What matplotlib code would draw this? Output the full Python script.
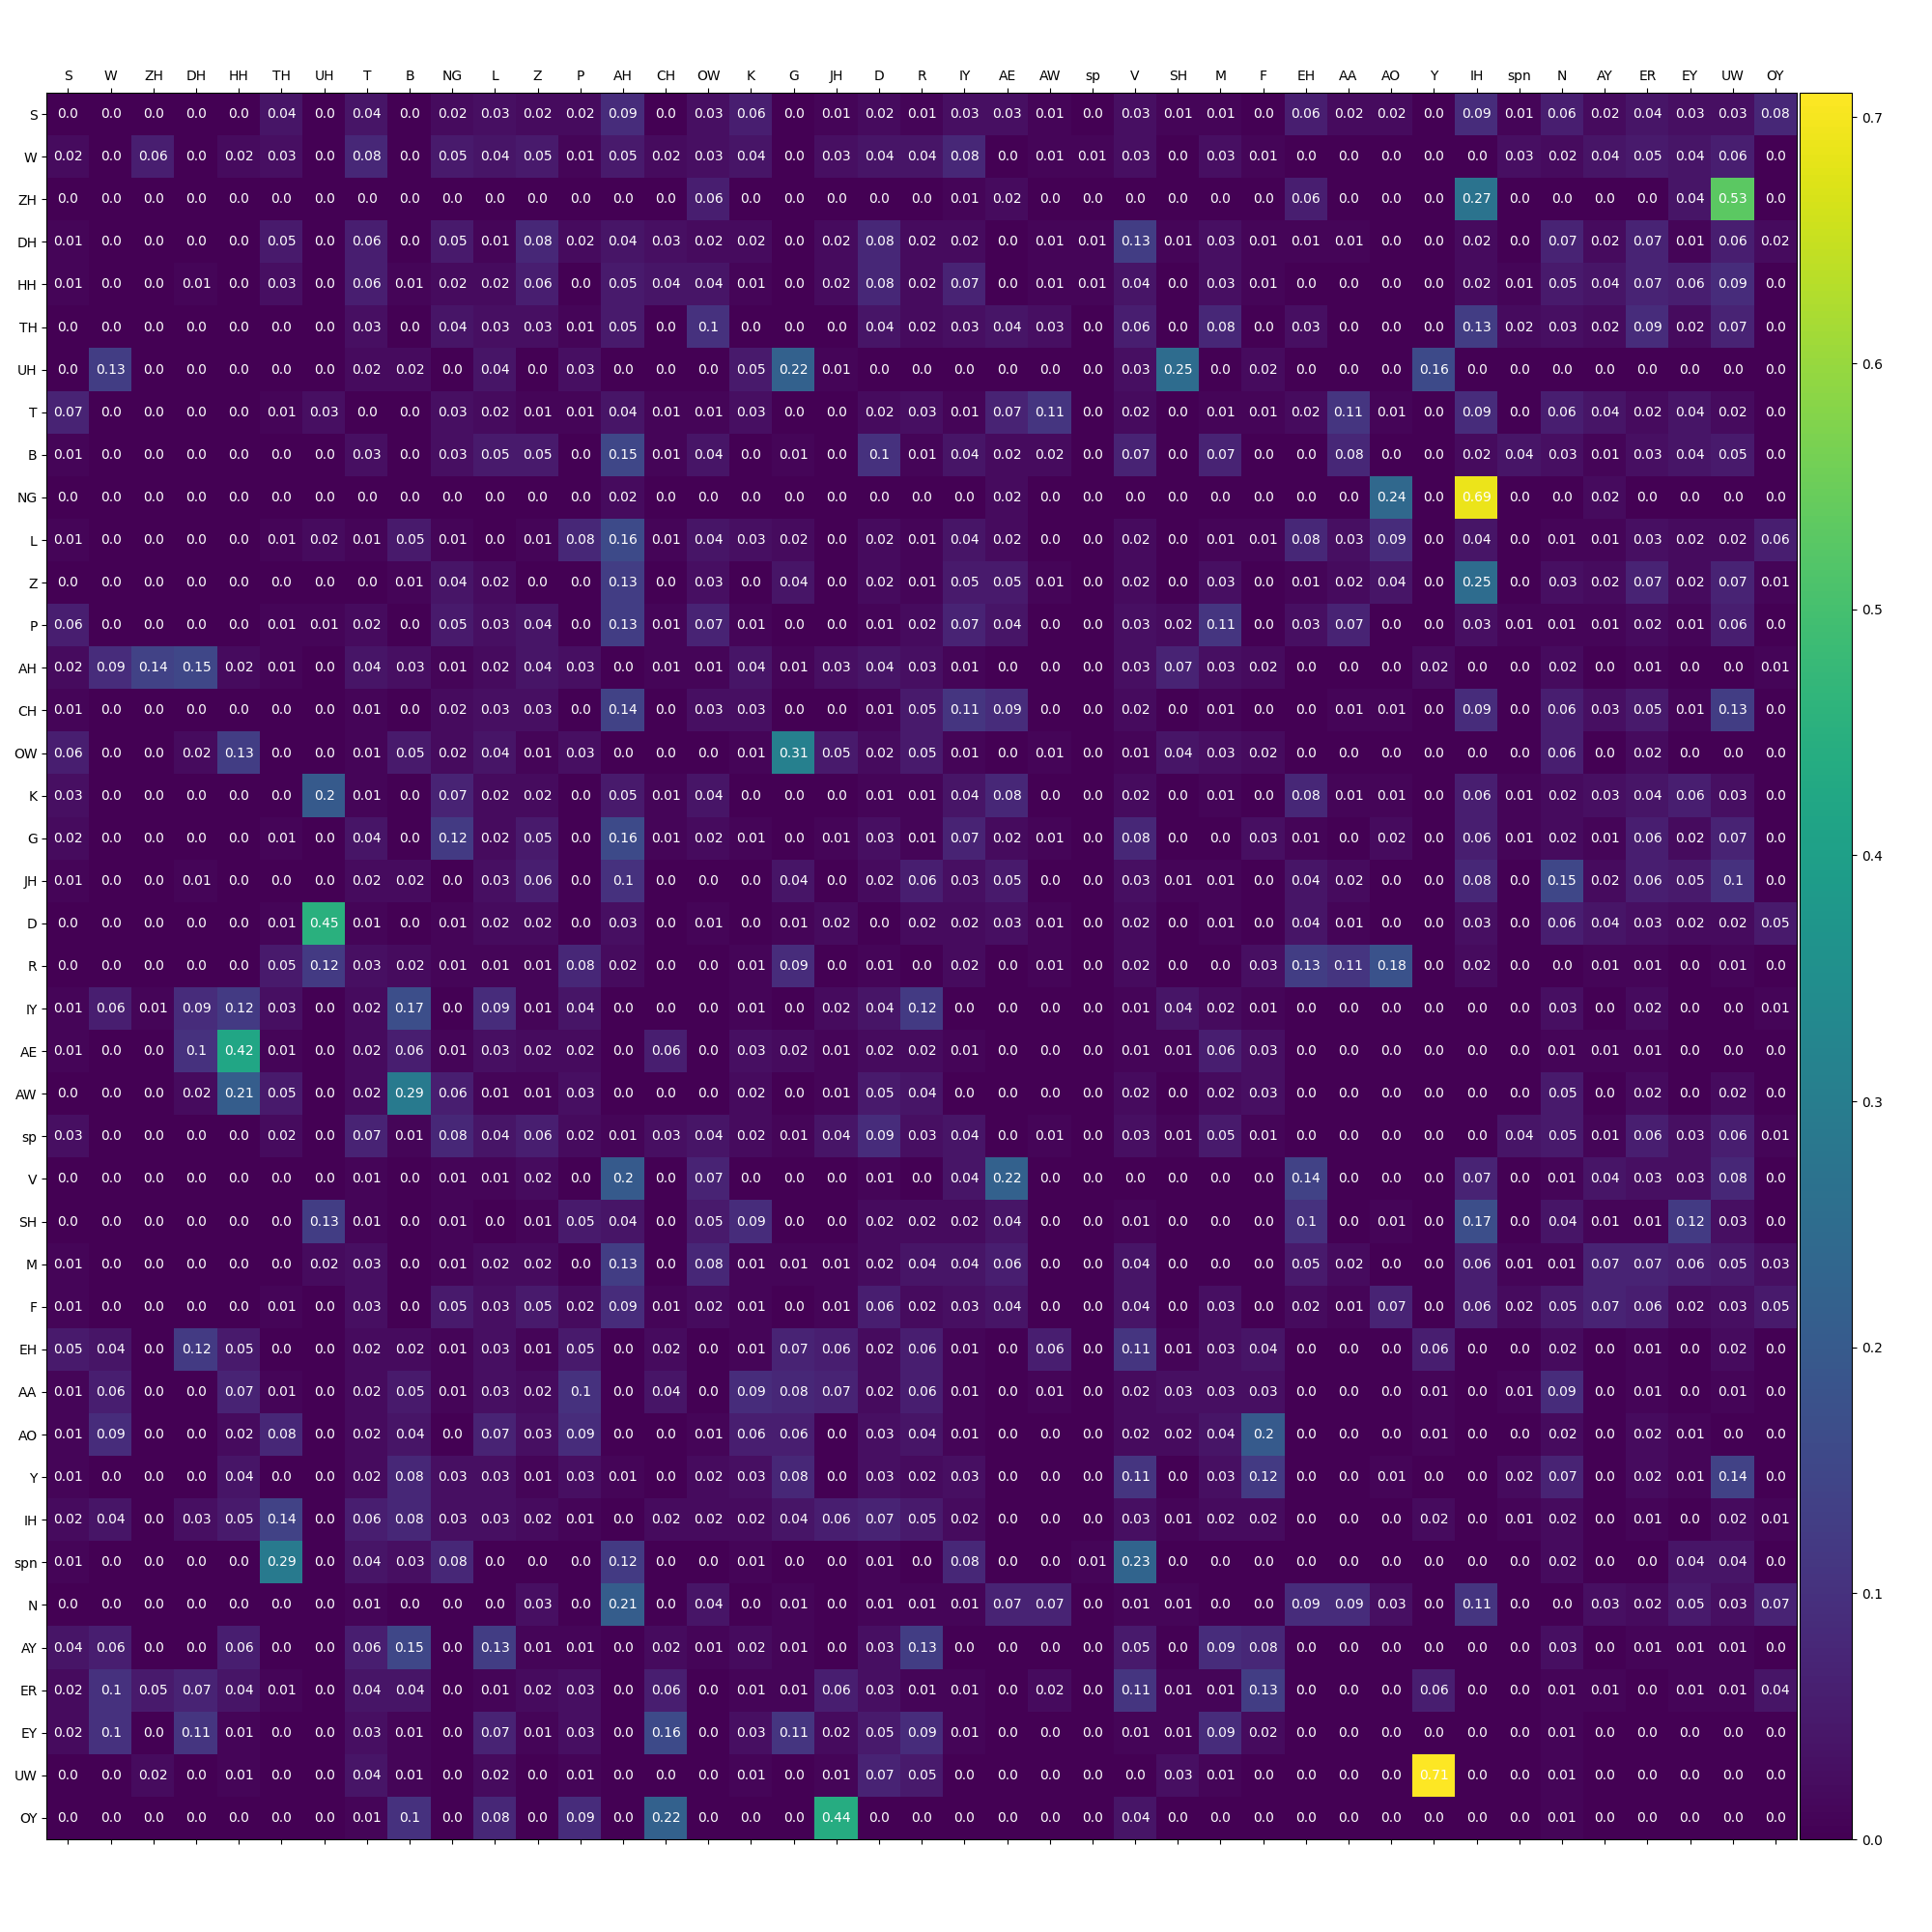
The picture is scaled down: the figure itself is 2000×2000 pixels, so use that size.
import matplotlib
matplotlib.use("Agg")
import matplotlib.pyplot as plt
import numpy as np

labels = ["S", "W", "ZH", "DH", "HH", "TH", "UH", "T", "B", "NG", "L", "Z", "P", "AH",
          "CH", "OW", "K", "G", "JH", "D", "R", "IY", "AE", "AW", "sp", "V", "SH",
          "M", "F", "EH", "AA", "AO", "Y", "IH", "spn", "N", "AY", "ER", "EY", "UW", "OY"]

row_S = [0.0, 0.0, 0.0, 0.0, 0.0, 0.04, 0.0, 0.04, 0.0, 0.02, 0.03, 0.02, 0.02, 0.09, 0.0, 0.03, 0.06, 0.0, 0.01, 0.02, 0.01, 0.03, 0.03, 0.01, 0.0, 0.03, 0.01, 0.01, 0.0, 0.06, 0.02, 0.02, 0.0, 0.09, 0.01, 0.06, 0.02, 0.04, 0.03, 0.03, 0.08]
row_W = [0.02, 0.0, 0.06, 0.0, 0.02, 0.03, 0.0, 0.08, 0.0, 0.05, 0.04, 0.05, 0.01, 0.05, 0.02, 0.03, 0.04, 0.0, 0.03, 0.04, 0.04, 0.08, 0.0, 0.01, 0.01, 0.03, 0.0, 0.03, 0.01, 0.0, 0.0, 0.0, 0.0, 0.0, 0.03, 0.02, 0.04, 0.05, 0.04, 0.06, 0.0]
row_ZH = [0.0, 0.0, 0.0, 0.0, 0.0, 0.0, 0.0, 0.0, 0.0, 0.0, 0.0, 0.0, 0.0, 0.0, 0.0, 0.06, 0.0, 0.0, 0.0, 0.0, 0.0, 0.01, 0.02, 0.0, 0.0, 0.0, 0.0, 0.0, 0.0, 0.06, 0.0, 0.0, 0.0, 0.27, 0.0, 0.0, 0.0, 0.0, 0.04, 0.53, 0.0]
row_DH = [0.01, 0.0, 0.0, 0.0, 0.0, 0.05, 0.0, 0.06, 0.0, 0.05, 0.01, 0.08, 0.02, 0.04, 0.03, 0.02, 0.02, 0.0, 0.02, 0.08, 0.02, 0.02, 0.0, 0.01, 0.01, 0.13, 0.01, 0.03, 0.01, 0.01, 0.01, 0.0, 0.0, 0.02, 0.0, 0.07, 0.02, 0.07, 0.01, 0.06, 0.02]
row_HH = [0.01, 0.0, 0.0, 0.01, 0.0, 0.03, 0.0, 0.06, 0.01, 0.02, 0.02, 0.06, 0.0, 0.05, 0.04, 0.04, 0.01, 0.0, 0.02, 0.08, 0.02, 0.07, 0.0, 0.01, 0.01, 0.04, 0.0, 0.03, 0.01, 0.0, 0.0, 0.0, 0.0, 0.02, 0.01, 0.05, 0.04, 0.07, 0.06, 0.09, 0.0]
row_TH = [0.0, 0.0, 0.0, 0.0, 0.0, 0.0, 0.0, 0.03, 0.0, 0.04, 0.03, 0.03, 0.01, 0.05, 0.0, 0.1, 0.0, 0.0, 0.0, 0.04, 0.02, 0.03, 0.04, 0.03, 0.0, 0.06, 0.0, 0.08, 0.0, 0.03, 0.0, 0.0, 0.0, 0.13, 0.02, 0.03, 0.02, 0.09, 0.02, 0.07, 0.0]
row_UH = [0.0, 0.13, 0.0, 0.0, 0.0, 0.0, 0.0, 0.02, 0.02, 0.0, 0.04, 0.0, 0.03, 0.0, 0.0, 0.0, 0.05, 0.22, 0.01, 0.0, 0.0, 0.0, 0.0, 0.0, 0.0, 0.03, 0.25, 0.0, 0.02, 0.0, 0.0, 0.0, 0.16, 0.0, 0.0, 0.0, 0.0, 0.0, 0.0, 0.0, 0.0]
row_T = [0.07, 0.0, 0.0, 0.0, 0.0, 0.01, 0.03, 0.0, 0.0, 0.03, 0.02, 0.01, 0.01, 0.04, 0.01, 0.01, 0.03, 0.0, 0.0, 0.02, 0.03, 0.01, 0.07, 0.11, 0.0, 0.02, 0.0, 0.01, 0.01, 0.02, 0.11, 0.01, 0.0, 0.09, 0.0, 0.06, 0.04, 0.02, 0.04, 0.02, 0.0]
row_B = [0.01, 0.0, 0.0, 0.0, 0.0, 0.0, 0.0, 0.03, 0.0, 0.03, 0.05, 0.05, 0.0, 0.15, 0.01, 0.04, 0.0, 0.01, 0.0, 0.1, 0.01, 0.04, 0.02, 0.02, 0.0, 0.07, 0.0, 0.07, 0.0, 0.0, 0.08, 0.0, 0.0, 0.02, 0.04, 0.03, 0.01, 0.03, 0.04, 0.05, 0.0]
row_NG = [0.0, 0.0, 0.0, 0.0, 0.0, 0.0, 0.0, 0.0, 0.0, 0.0, 0.0, 0.0, 0.0, 0.02, 0.0, 0.0, 0.0, 0.0, 0.0, 0.0, 0.0, 0.0, 0.02, 0.0, 0.0, 0.0, 0.0, 0.0, 0.0, 0.0, 0.0, 0.24, 0.0, 0.69, 0.0, 0.0, 0.02, 0.0, 0.0, 0.0, 0.0]
row_L = [0.01, 0.0, 0.0, 0.0, 0.0, 0.01, 0.02, 0.01, 0.05, 0.01, 0.0, 0.01, 0.08, 0.16, 0.01, 0.04, 0.03, 0.02, 0.0, 0.02, 0.01, 0.04, 0.02, 0.0, 0.0, 0.02, 0.0, 0.01, 0.01, 0.08, 0.03, 0.09, 0.0, 0.04, 0.0, 0.01, 0.01, 0.03, 0.02, 0.02, 0.06]
row_Z = [0.0, 0.0, 0.0, 0.0, 0.0, 0.0, 0.0, 0.0, 0.01, 0.04, 0.02, 0.0, 0.0, 0.13, 0.0, 0.03, 0.0, 0.04, 0.0, 0.02, 0.01, 0.05, 0.05, 0.01, 0.0, 0.02, 0.0, 0.03, 0.0, 0.01, 0.02, 0.04, 0.0, 0.25, 0.0, 0.03, 0.02, 0.07, 0.02, 0.07, 0.01]
row_P = [0.06, 0.0, 0.0, 0.0, 0.0, 0.01, 0.01, 0.02, 0.0, 0.05, 0.03, 0.04, 0.0, 0.13, 0.01, 0.07, 0.01, 0.0, 0.0, 0.01, 0.02, 0.07, 0.04, 0.0, 0.0, 0.03, 0.02, 0.11, 0.0, 0.03, 0.07, 0.0, 0.0, 0.03, 0.01, 0.01, 0.01, 0.02, 0.01, 0.06, 0.0]
row_AH = [0.02, 0.09, 0.14, 0.15, 0.02, 0.01, 0.0, 0.04, 0.03, 0.01, 0.02, 0.04, 0.03, 0.0, 0.01, 0.01, 0.04, 0.01, 0.03, 0.04, 0.03, 0.01, 0.0, 0.0, 0.0, 0.03, 0.07, 0.03, 0.02, 0.0, 0.0, 0.0, 0.02, 0.0, 0.0, 0.02, 0.0, 0.01, 0.0, 0.0, 0.01]
row_CH = [0.01, 0.0, 0.0, 0.0, 0.0, 0.0, 0.0, 0.01, 0.0, 0.02, 0.03, 0.03, 0.0, 0.14, 0.0, 0.03, 0.03, 0.0, 0.0, 0.01, 0.05, 0.11, 0.09, 0.0, 0.0, 0.02, 0.0, 0.01, 0.0, 0.0, 0.01, 0.01, 0.0, 0.09, 0.0, 0.06, 0.03, 0.05, 0.01, 0.13, 0.0]
row_OW = [0.06, 0.0, 0.0, 0.02, 0.13, 0.0, 0.0, 0.01, 0.05, 0.02, 0.04, 0.01, 0.03, 0.0, 0.0, 0.0, 0.01, 0.31, 0.05, 0.02, 0.05, 0.01, 0.0, 0.01, 0.0, 0.01, 0.04, 0.03, 0.02, 0.0, 0.0, 0.0, 0.0, 0.0, 0.0, 0.06, 0.0, 0.02, 0.0, 0.0, 0.0]
row_K = [0.03, 0.0, 0.0, 0.0, 0.0, 0.0, 0.2, 0.01, 0.0, 0.07, 0.02, 0.02, 0.0, 0.05, 0.01, 0.04, 0.0, 0.0, 0.0, 0.01, 0.01, 0.04, 0.08, 0.0, 0.0, 0.02, 0.0, 0.01, 0.0, 0.08, 0.01, 0.01, 0.0, 0.06, 0.01, 0.02, 0.03, 0.04, 0.06, 0.03, 0.0]
row_G = [0.02, 0.0, 0.0, 0.0, 0.0, 0.01, 0.0, 0.04, 0.0, 0.12, 0.02, 0.05, 0.0, 0.16, 0.01, 0.02, 0.01, 0.0, 0.01, 0.03, 0.01, 0.07, 0.02, 0.01, 0.0, 0.08, 0.0, 0.0, 0.03, 0.01, 0.0, 0.02, 0.0, 0.06, 0.01, 0.02, 0.01, 0.06, 0.02, 0.07, 0.0]
row_JH = [0.01, 0.0, 0.0, 0.01, 0.0, 0.0, 0.0, 0.02, 0.02, 0.0, 0.03, 0.06, 0.0, 0.1, 0.0, 0.0, 0.0, 0.04, 0.0, 0.02, 0.06, 0.03, 0.05, 0.0, 0.0, 0.03, 0.01, 0.01, 0.0, 0.04, 0.02, 0.0, 0.0, 0.08, 0.0, 0.15, 0.02, 0.06, 0.05, 0.1, 0.0]
row_D = [0.0, 0.0, 0.0, 0.0, 0.0, 0.01, 0.45, 0.01, 0.0, 0.01, 0.02, 0.02, 0.0, 0.03, 0.0, 0.01, 0.0, 0.01, 0.02, 0.0, 0.02, 0.02, 0.03, 0.01, 0.0, 0.02, 0.0, 0.01, 0.0, 0.04, 0.01, 0.0, 0.0, 0.03, 0.0, 0.06, 0.04, 0.03, 0.02, 0.02, 0.05]
row_R = [0.0, 0.0, 0.0, 0.0, 0.0, 0.05, 0.12, 0.03, 0.02, 0.01, 0.01, 0.01, 0.08, 0.02, 0.0, 0.0, 0.01, 0.09, 0.0, 0.01, 0.0, 0.02, 0.0, 0.01, 0.0, 0.02, 0.0, 0.0, 0.03, 0.13, 0.11, 0.18, 0.0, 0.02, 0.0, 0.0, 0.01, 0.01, 0.0, 0.01, 0.0]
row_IY = [0.01, 0.06, 0.01, 0.09, 0.12, 0.03, 0.0, 0.02, 0.17, 0.0, 0.09, 0.01, 0.04, 0.0, 0.0, 0.0, 0.01, 0.0, 0.02, 0.04, 0.12, 0.0, 0.0, 0.0, 0.0, 0.01, 0.04, 0.02, 0.01, 0.0, 0.0, 0.0, 0.0, 0.0, 0.0, 0.03, 0.0, 0.02, 0.0, 0.0, 0.01]
row_AE = [0.01, 0.0, 0.0, 0.1, 0.42, 0.01, 0.0, 0.02, 0.06, 0.01, 0.03, 0.02, 0.02, 0.0, 0.06, 0.0, 0.03, 0.02, 0.01, 0.02, 0.02, 0.01, 0.0, 0.0, 0.0, 0.01, 0.01, 0.06, 0.03, 0.0, 0.0, 0.0, 0.0, 0.0, 0.0, 0.01, 0.01, 0.01, 0.0, 0.0, 0.0]
row_AW = [0.0, 0.0, 0.0, 0.02, 0.21, 0.05, 0.0, 0.02, 0.29, 0.06, 0.01, 0.01, 0.03, 0.0, 0.0, 0.0, 0.02, 0.0, 0.01, 0.05, 0.04, 0.0, 0.0, 0.0, 0.0, 0.02, 0.0, 0.02, 0.03, 0.0, 0.0, 0.0, 0.0, 0.0, 0.0, 0.05, 0.0, 0.02, 0.0, 0.02, 0.0]
row_sp = [0.03, 0.0, 0.0, 0.0, 0.0, 0.02, 0.0, 0.07, 0.01, 0.08, 0.04, 0.06, 0.02, 0.01, 0.03, 0.04, 0.02, 0.01, 0.04, 0.09, 0.03, 0.04, 0.0, 0.01, 0.0, 0.03, 0.01, 0.05, 0.01, 0.0, 0.0, 0.0, 0.0, 0.0, 0.04, 0.05, 0.01, 0.06, 0.03, 0.06, 0.01]
row_V = [0.0, 0.0, 0.0, 0.0, 0.0, 0.0, 0.0, 0.01, 0.0, 0.01, 0.01, 0.02, 0.0, 0.2, 0.0, 0.07, 0.0, 0.0, 0.0, 0.01, 0.0, 0.04, 0.22, 0.0, 0.0, 0.0, 0.0, 0.0, 0.0, 0.14, 0.0, 0.0, 0.0, 0.07, 0.0, 0.01, 0.04, 0.03, 0.03, 0.08, 0.0]
row_SH = [0.0, 0.0, 0.0, 0.0, 0.0, 0.0, 0.13, 0.01, 0.0, 0.01, 0.0, 0.01, 0.05, 0.04, 0.0, 0.05, 0.09, 0.0, 0.0, 0.02, 0.02, 0.02, 0.04, 0.0, 0.0, 0.01, 0.0, 0.0, 0.0, 0.1, 0.0, 0.01, 0.0, 0.17, 0.0, 0.04, 0.01, 0.01, 0.12, 0.03, 0.0]
row_M = [0.01, 0.0, 0.0, 0.0, 0.0, 0.0, 0.02, 0.03, 0.0, 0.01, 0.02, 0.02, 0.0, 0.13, 0.0, 0.08, 0.01, 0.01, 0.01, 0.02, 0.04, 0.04, 0.06, 0.0, 0.0, 0.04, 0.0, 0.0, 0.0, 0.05, 0.02, 0.0, 0.0, 0.06, 0.01, 0.01, 0.07, 0.07, 0.06, 0.05, 0.03]
row_F = [0.01, 0.0, 0.0, 0.0, 0.0, 0.01, 0.0, 0.03, 0.0, 0.05, 0.03, 0.05, 0.02, 0.09, 0.01, 0.02, 0.01, 0.0, 0.01, 0.06, 0.02, 0.03, 0.04, 0.0, 0.0, 0.04, 0.0, 0.03, 0.0, 0.02, 0.01, 0.07, 0.0, 0.06, 0.02, 0.05, 0.07, 0.06, 0.02, 0.03, 0.05]
row_EH = [0.05, 0.04, 0.0, 0.12, 0.05, 0.0, 0.0, 0.02, 0.02, 0.01, 0.03, 0.01, 0.05, 0.0, 0.02, 0.0, 0.01, 0.07, 0.06, 0.02, 0.06, 0.01, 0.0, 0.06, 0.0, 0.11, 0.01, 0.03, 0.04, 0.0, 0.0, 0.0, 0.06, 0.0, 0.0, 0.02, 0.0, 0.01, 0.0, 0.02, 0.0]
row_AA = [0.01, 0.06, 0.0, 0.0, 0.07, 0.01, 0.0, 0.02, 0.05, 0.01, 0.03, 0.02, 0.1, 0.0, 0.04, 0.0, 0.09, 0.08, 0.07, 0.02, 0.06, 0.01, 0.0, 0.01, 0.0, 0.02, 0.03, 0.03, 0.03, 0.0, 0.0, 0.0, 0.01, 0.0, 0.01, 0.09, 0.0, 0.01, 0.0, 0.01, 0.0]
row_AO = [0.01, 0.09, 0.0, 0.0, 0.02, 0.08, 0.0, 0.02, 0.04, 0.0, 0.07, 0.03, 0.09, 0.0, 0.0, 0.01, 0.06, 0.06, 0.0, 0.03, 0.04, 0.01, 0.0, 0.0, 0.0, 0.02, 0.02, 0.04, 0.2, 0.0, 0.0, 0.0, 0.01, 0.0, 0.0, 0.02, 0.0, 0.02, 0.01, 0.0, 0.0]
row_Y = [0.01, 0.0, 0.0, 0.0, 0.04, 0.0, 0.0, 0.02, 0.08, 0.03, 0.03, 0.01, 0.03, 0.01, 0.0, 0.02, 0.03, 0.08, 0.0, 0.03, 0.02, 0.03, 0.0, 0.0, 0.0, 0.11, 0.0, 0.03, 0.12, 0.0, 0.0, 0.01, 0.0, 0.0, 0.02, 0.07, 0.0, 0.02, 0.01, 0.14, 0.0]
row_IH = [0.02, 0.04, 0.0, 0.03, 0.05, 0.14, 0.0, 0.06, 0.08, 0.03, 0.03, 0.02, 0.01, 0.0, 0.02, 0.02, 0.02, 0.04, 0.06, 0.07, 0.05, 0.02, 0.0, 0.0, 0.0, 0.03, 0.01, 0.02, 0.02, 0.0, 0.0, 0.0, 0.02, 0.0, 0.01, 0.02, 0.0, 0.01, 0.0, 0.02, 0.01]
row_spn = [0.01, 0.0, 0.0, 0.0, 0.0, 0.29, 0.0, 0.04, 0.03, 0.08, 0.0, 0.0, 0.0, 0.12, 0.0, 0.0, 0.01, 0.0, 0.0, 0.01, 0.0, 0.08, 0.0, 0.0, 0.01, 0.23, 0.0, 0.0, 0.0, 0.0, 0.0, 0.0, 0.0, 0.0, 0.0, 0.02, 0.0, 0.0, 0.04, 0.04, 0.0]
row_N = [0.0, 0.0, 0.0, 0.0, 0.0, 0.0, 0.0, 0.01, 0.0, 0.0, 0.0, 0.03, 0.0, 0.21, 0.0, 0.04, 0.0, 0.01, 0.0, 0.01, 0.01, 0.01, 0.07, 0.07, 0.0, 0.01, 0.01, 0.0, 0.0, 0.09, 0.09, 0.03, 0.0, 0.11, 0.0, 0.0, 0.03, 0.02, 0.05, 0.03, 0.07]
row_AY = [0.04, 0.06, 0.0, 0.0, 0.06, 0.0, 0.0, 0.06, 0.15, 0.0, 0.13, 0.01, 0.01, 0.0, 0.02, 0.01, 0.02, 0.01, 0.0, 0.03, 0.13, 0.0, 0.0, 0.0, 0.0, 0.05, 0.0, 0.09, 0.08, 0.0, 0.0, 0.0, 0.0, 0.0, 0.0, 0.03, 0.0, 0.01, 0.01, 0.01, 0.0]
row_ER = [0.02, 0.1, 0.05, 0.07, 0.04, 0.01, 0.0, 0.04, 0.04, 0.0, 0.01, 0.02, 0.03, 0.0, 0.06, 0.0, 0.01, 0.01, 0.06, 0.03, 0.01, 0.01, 0.0, 0.02, 0.0, 0.11, 0.01, 0.01, 0.13, 0.0, 0.0, 0.0, 0.06, 0.0, 0.0, 0.01, 0.01, 0.0, 0.01, 0.01, 0.04]
row_EY = [0.02, 0.1, 0.0, 0.11, 0.01, 0.0, 0.0, 0.03, 0.01, 0.0, 0.07, 0.01, 0.03, 0.0, 0.16, 0.0, 0.03, 0.11, 0.02, 0.05, 0.09, 0.01, 0.0, 0.0, 0.0, 0.01, 0.01, 0.09, 0.02, 0.0, 0.0, 0.0, 0.0, 0.0, 0.0, 0.01, 0.0, 0.0, 0.0, 0.0, 0.0]
row_UW = [0.0, 0.0, 0.02, 0.0, 0.01, 0.0, 0.0, 0.04, 0.01, 0.0, 0.02, 0.0, 0.01, 0.0, 0.0, 0.0, 0.01, 0.0, 0.01, 0.07, 0.05, 0.0, 0.0, 0.0, 0.0, 0.0, 0.03, 0.01, 0.0, 0.0, 0.0, 0.0, 0.71, 0.0, 0.0, 0.01, 0.0, 0.0, 0.0, 0.0, 0.0]
row_OY = [0.0, 0.0, 0.0, 0.0, 0.0, 0.0, 0.0, 0.01, 0.1, 0.0, 0.08, 0.0, 0.09, 0.0, 0.22, 0.0, 0.0, 0.0, 0.44, 0.0, 0.0, 0.0, 0.0, 0.0, 0.0, 0.04, 0.0, 0.0, 0.0, 0.0, 0.0, 0.0, 0.0, 0.0, 0.0, 0.01, 0.0, 0.0, 0.0, 0.0, 0.0]

rows = [row_S, row_W, row_ZH, row_DH, row_HH, row_TH, row_UH, row_T, row_B, row_NG,
        row_L, row_Z, row_P, row_AH, row_CH, row_OW, row_K, row_G, row_JH, row_D,
        row_R, row_IY, row_AE, row_AW, row_sp, row_V, row_SH, row_M, row_F, row_EH,
        row_AA, row_AO, row_Y, row_IH, row_spn, row_N, row_AY, row_ER, row_EY, row_UW, row_OY]
matrix = np.array(rows)

fig = plt.figure(figsize=(20, 20), dpi=100)
ax = fig.add_axes([0.0242, 0.048, 0.9058, 0.904])
cax = fig.add_axes([0.9317, 0.048, 0.0268, 0.904])

im = ax.matshow(matrix, cmap="viridis", aspect="auto")
n = len(labels)
ax.set_xticks(range(n))
ax.set_yticks(range(n))
ax.set_xticklabels(labels, fontsize=10)
ax.set_yticklabels(labels, fontsize=10)
ax.tick_params(axis="x", bottom=True, top=True, labelbottom=False, labeltop=True)

for i in range(n):
    for j in range(n):
        ax.text(j, i, str(round(float(matrix[i, j]), 2)), ha="center", va="center",
                color="white", fontsize=10)

cb = fig.colorbar(im, cax=cax)
cb.ax.tick_params(labelsize=10)

fig.savefig("out.png", dpi=100)
